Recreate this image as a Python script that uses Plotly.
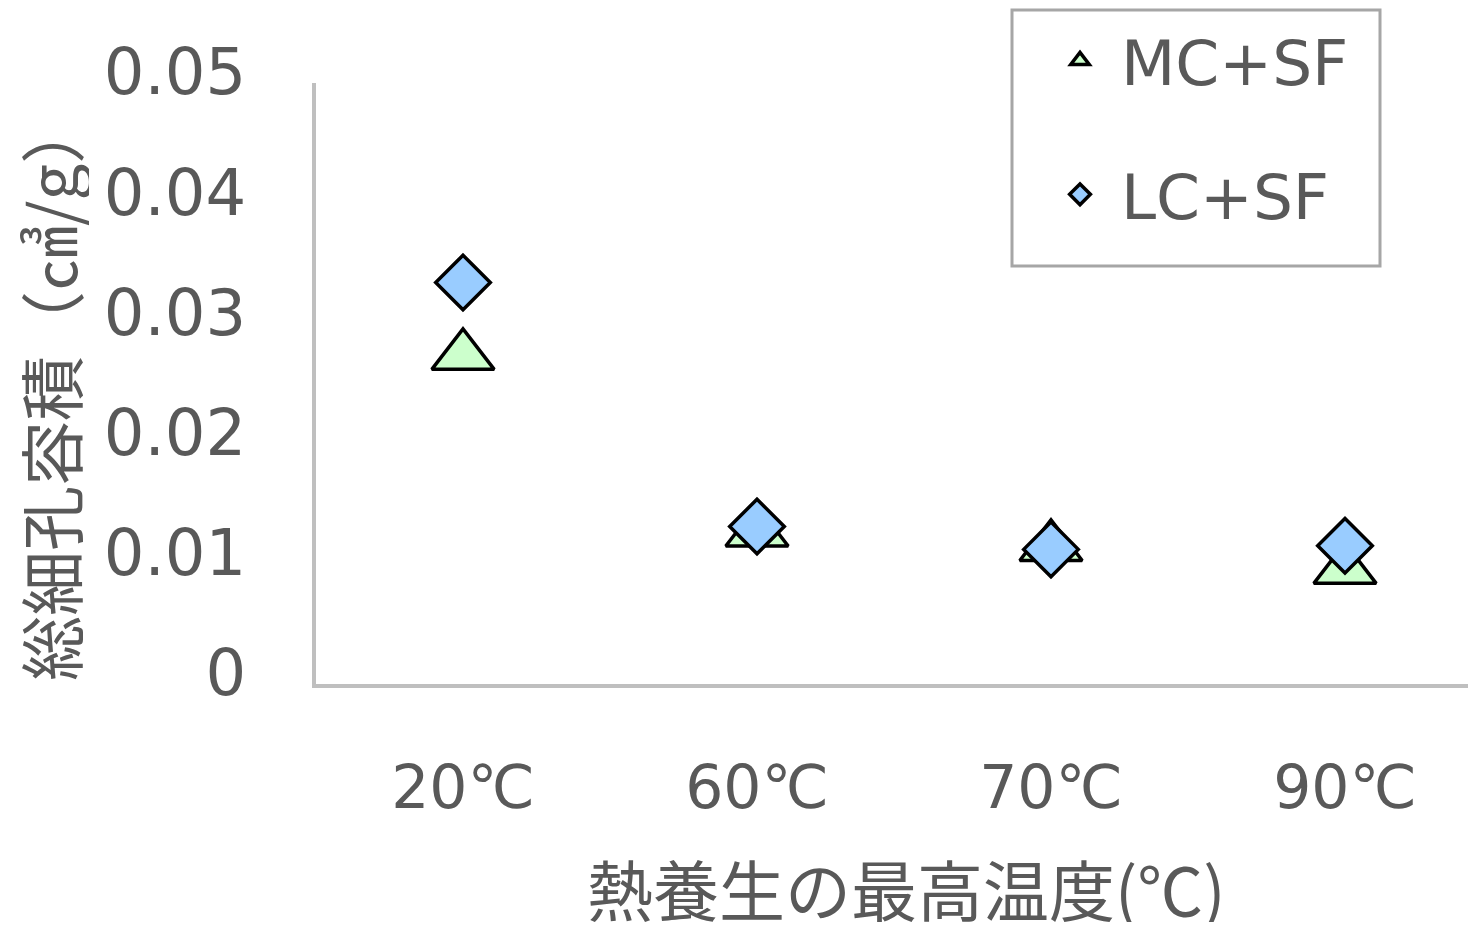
import plotly.graph_objects as go

categories = ["20℃", "60℃", "70℃", "90℃"]
mc_sf = [0.0273, 0.0126, 0.0114, 0.0095]
lc_sf = [0.0334, 0.0131, 0.0112, 0.0115]
y_ticks = [0, 0.01, 0.02, 0.03, 0.04, 0.05]
y_tick_labels = ["0", "0.01", "0.02", "0.03", "0.04", "0.05"]

TEXT = "#595959"
FONT = "DejaVu Sans, Noto Sans CJK JP, sans-serif"
JFONT = "Noto Sans CJK JP, DejaVu Sans, sans-serif"

W, H = 1476, 925
L, T, B = 308, 75, 676          # figure pixel coordinates of plot area
CAT_STEP = 294                   # pixels per category
PW, PH = W - L, B - T

def px(x):
    return (x - L) / PW

def py(y):
    return (B - y) / PH

fig = go.Figure()
fig.add_trace(go.Scatter(
    x=categories, y=mc_sf, mode="markers", name="MC+SF", legendgroup="a",
    marker=dict(symbol="triangle-up", size=54, color="#CCFFCC",
                line=dict(color="black", width=3.5)),
))
fig.add_trace(go.Scatter(
    x=categories, y=lc_sf, mode="markers", name="LC+SF", legendgroup="b",
    marker=dict(symbol="diamond", size=42, color="#99CCFF",
                line=dict(color="black", width=3.5)),
))

fig.update_layout(
    width=W, height=H,
    margin=dict(l=L, r=0, t=T, b=H - B, autoexpand=False),
    paper_bgcolor="white", plot_bgcolor="white",
    font=dict(family=FONT, size=61, color=TEXT),
    showlegend=True,
    legend=dict(
        x=px(1031), y=py(5), xanchor="left", yanchor="top",
        bgcolor="rgba(0,0,0,0)", borderwidth=0,
        font=dict(family=FONT, size=63, color=TEXT),
        tracegroupgap=49, itemwidth=72,
    ),
    xaxis=dict(
        type="category", range=[-0.5, -0.5 + PW / CAT_STEP],
        showgrid=False, zeroline=False,
        showline=True, linecolor="#BFBFBF", linewidth=4,
        ticks="", ticklabelstandoff=48,
        tickfont=dict(family=FONT, size=60, color=TEXT),
    ),
    yaxis=dict(
        range=[0, 0.05], tickvals=y_ticks, ticktext=y_tick_labels,
        showgrid=False, zeroline=False,
        showline=True, linecolor="#BFBFBF", linewidth=4,
        ticks="", ticklabelstandoff=53, ticklabelshift=-11,
        tickfont=dict(family=FONT, size=64, color=TEXT),
    ),
    shapes=[
        dict(type="rect", xref="paper", yref="paper",
             x0=px(1004), x1=px(1372), y0=py(258), y1=py(2),
             line=dict(color="#A6A6A6", width=3), fillcolor="rgba(0,0,0,0)",
             layer="above"),
    ],
    annotations=[
        dict(text="総細孔容積（㎤/g）", xref="paper", yref="paper",
             x=px(41), y=py(382), textangle=-90, height=80,
             xanchor="center", yanchor="middle", valign="middle",
             showarrow=False, borderpad=0,
             font=dict(family=JFONT, size=65, color=TEXT)),
        dict(text="熱養生の最高温度(℃)", xref="paper", yref="paper",
             x=px(898), y=py(879), height=70,
             xanchor="center", yanchor="middle", valign="middle",
             showarrow=False, borderpad=0,
             font=dict(family=JFONT, size=66, color=TEXT)),
    ],
)

fig.write_html("out.html")
